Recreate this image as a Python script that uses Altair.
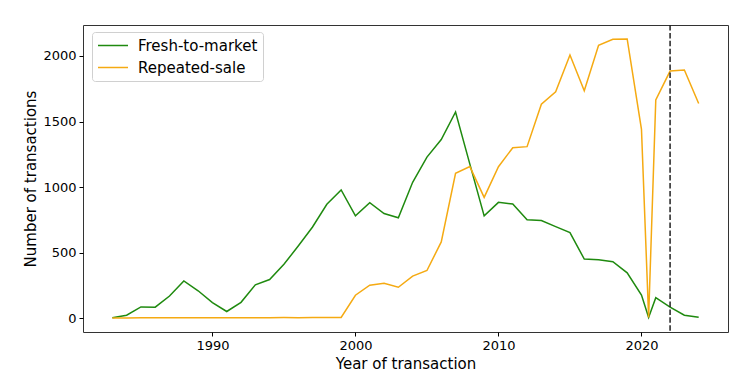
import altair as alt
import pandas as pd

years = [1983, 1984, 1985, 1986, 1987, 1988, 1989, 1990, 1991, 1992, 1993, 1994,
         1995, 1996, 1997, 1998, 1999, 2000, 2001, 2002, 2003, 2004, 2005, 2006,
         2007, 2008, 2009, 2010, 2011, 2012, 2013, 2014, 2015, 2016, 2017, 2018,
         2019, 2020, 2020.5, 2021, 2022, 2023, 2024]

fresh_to_market = [3, 22, 85, 83, 168, 283, 208, 118, 50, 120, 254, 294,
                   410, 550, 695, 868, 978, 780, 880, 798, 765, 1036, 1228, 1362,
                   1573, 1175, 780, 883, 870, 750, 744, 698, 652, 450, 445, 430,
                   345, 175, 5, 155, 83, 22, 6]

repeated_sale = [0, 1, 2, 2, 2, 2, 3, 3, 2, 2, 3, 3,
                 4, 3, 4, 5, 5, 174, 251, 266, 235, 320, 363, 581,
                 1105, 1156, 921, 1155, 1300, 1308, 1632, 1726, 2008, 1734, 2082, 2128,
                 2130, 1440, 5, 1665, 1885, 1893, 1637]

series_names = ["Fresh-to-market", "Repeated-sale"]
series_colors = ["#1f8a0f", "#f5aa12"]
cutoff_year = [2022]

rows = []
for y, v in zip(years, fresh_to_market):
    rows.append({"year": y, "count": v, "series": series_names[0]})
for y, v in zip(years, repeated_sale):
    rows.append({"year": y, "count": v, "series": series_names[1]})
df = pd.DataFrame(rows)

font = "DejaVu Sans"

x_scale = alt.Scale(domain=[1980.95, 2026.05], nice=False, zero=False)
y_scale = alt.Scale(domain=[-106.5, 2236.5], nice=False, zero=False)

lines = alt.Chart(df).mark_line(strokeWidth=1.5).encode(
    x=alt.X("year:Q", scale=x_scale,
            axis=alt.Axis(values=[1990, 2000, 2010, 2020], format="d",
                          title="Year of transaction")),
    y=alt.Y("count:Q", scale=y_scale,
            axis=alt.Axis(values=[0, 500, 1000, 1500, 2000], format="d",
                          title="Number of transactions")),
    color=alt.Color("series:N",
                    scale=alt.Scale(domain=series_names, range=series_colors),
                    legend=alt.Legend(title=None, orient="none", legendX=9, legendY=7,
                                      symbolType="M-1,0H3", symbolSize=225,
                                      symbolStrokeWidth=1.5, labelFontSize=15,
                                      labelFont=font, labelColor="black",
                                      labelOffset=24, rowPadding=5,
                                      fillColor="white", strokeColor="#d0d0d0",
                                      cornerRadius=3, padding=5)),
    order=alt.Order("series:N"),
)

rule = alt.Chart(pd.DataFrame({"year": cutoff_year})).mark_rule(
    color="#222222", strokeWidth=1.5, strokeDash=[5.5, 2.4]
).encode(x=alt.X("year:Q", scale=x_scale))

chart = alt.layer(lines, rule).properties(
    width=645, height=307,
    autosize=alt.AutoSizeParams(type="none"),
    padding={"left": 83, "top": 25, "right": 25, "bottom": 45},
).configure_view(
    stroke="#333333", strokeWidth=1
).configure_axis(
    grid=False, domain=False, tickColor="black", tickSize=4, tickWidth=1,
    labelFont=font, labelFontSize=13, labelColor="black", labelPadding=3,
    titleFont=font, titleFontSize=15, titleFontWeight="normal", titleColor="black",
).configure_axisX(titlePadding=4).configure_axisY(titlePadding=4)

chart.save("out.html", embed_options={"renderer": "svg", "actions": False})
